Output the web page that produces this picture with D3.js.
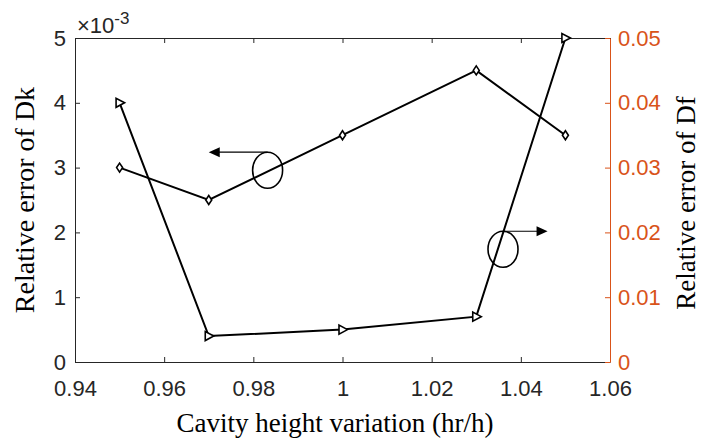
<!DOCTYPE html>
<html>
<head>
<meta charset="utf-8">
<script src="https://cdn.jsdelivr.net/npm/d3@7"></script>
<style>
  body { margin: 0; background: #fff; }
  svg { display: block; }
</style>
</head>
<body>
<svg id="chart" width="701" height="442"></svg>
<script>
// cavity height variation (hr/h)
const xValues = [0.95, 0.97, 1.0, 1.03, 1.05];
// relative error of Dk, in units of 1e-3
const dkValues = [3, 2.5, 3.5, 4.5, 3.5];
// relative error of Df
const dfValues = [0.04, 0.004, 0.005, 0.007, 0.05];

const xTicks = [0.94, 0.96, 0.98, 1, 1.02, 1.04, 1.06];
const leftTicks = [0, 1, 2, 3, 4, 5];
const rightTicks = [0, 0.01, 0.02, 0.03, 0.04, 0.05];

const margin = { top: 38, right: 91, bottom: 80, left: 75 };
const width = 701 - margin.left - margin.right;
const height = 442 - margin.top - margin.bottom;

const axisColor = "#262626";
const orange = "#D95319";

const svg = d3.select("#chart");
const g = svg.append("g").attr("transform", `translate(${margin.left},${margin.top})`);

const xScale = d3.scaleLinear().domain([0.94, 1.06]).range([0, width]);
const yLeft = d3.scaleLinear().domain([0, 5]).range([height, 0]);
const yRight = d3.scaleLinear().domain([0, 0.05]).range([height, 0]);

const tickFont = "Liberation Sans, Arial, sans-serif";
const labelFont = "Liberation Serif, Times New Roman, serif";

function styleAxis(sel, color) {
  sel.attr("font-size", null).attr("font-family", null);
  sel.select(".domain").attr("stroke", color).attr("stroke-width", 1);
  sel.selectAll(".tick line").attr("stroke", color);
  sel.selectAll(".tick text")
    .attr("fill", color)
    .style("font-family", tickFont)
    .style("font-size", "22px");
}

// bottom axis
g.append("g")
  .attr("transform", `translate(0,${height})`)
  .call(d3.axisBottom(xScale).tickValues(xTicks).tickSize(-5).tickPadding(18)
    .tickFormat(d3.format("")).tickSizeOuter(0))
  .call((s) => styleAxis(s, axisColor));

// top axis (box)
g.append("g")
  .call(d3.axisTop(xScale).tickValues(xTicks).tickSize(-5).tickFormat("").tickSizeOuter(0))
  .call((s) => styleAxis(s, axisColor));

// left axis
g.append("g")
  .call(d3.axisLeft(yLeft).tickValues(leftTicks).tickSize(-5).tickPadding(9)
    .tickFormat(d3.format("")).tickSizeOuter(0))
  .call((s) => styleAxis(s, axisColor));

// right axis
g.append("g")
  .attr("transform", `translate(${width},0)`)
  .call(d3.axisRight(yRight).tickValues(rightTicks).tickSize(-5).tickPadding(8)
    .tickFormat(d3.format("")).tickSizeOuter(0))
  .call((s) => styleAxis(s, orange));

// exponent label
const expo = g.append("text")
  .attr("x", 2)
  .attr("y", -5)
  .attr("fill", axisColor)
  .style("font-family", tickFont)
  .style("font-size", "22px");
expo.append("tspan").text("\u00d710");
expo.append("tspan").attr("dy", -9).style("font-size", "17px").text("-3");

// series
const dkData = xValues.map((x, i) => ({ x: x, y: dkValues[i] }));
const dfData = xValues.map((x, i) => ({ x: x, y: dfValues[i] }));

const dkLine = d3.line().x((d) => xScale(d.x)).y((d) => yLeft(d.y));
const dfLine = d3.line().x((d) => xScale(d.x)).y((d) => yRight(d.y));

g.append("path")
  .datum(dkData)
  .attr("fill", "none")
  .attr("stroke", "#000")
  .attr("stroke-width", 2)
  .attr("d", dkLine);

g.append("path")
  .datum(dfData)
  .attr("fill", "none")
  .attr("stroke", "#000")
  .attr("stroke-width", 2)
  .attr("d", dfLine);

// diamond markers
g.selectAll(".dk-marker")
  .data(dkData)
  .enter()
  .append("path")
  .attr("class", "dk-marker")
  .attr("transform", (d) => `translate(${xScale(d.x)},${yLeft(d.y)})`)
  .attr("d", "M0,-4.5L3,0L0,4.5L-3,0Z")
  .attr("fill", "#fff")
  .attr("stroke", "#000")
  .attr("stroke-width", 1.6);

// right-pointing triangle markers
g.selectAll(".df-marker")
  .data(dfData)
  .enter()
  .append("path")
  .attr("class", "df-marker")
  .attr("transform", (d) => `translate(${xScale(d.x)},${yRight(d.y)})`)
  .attr("d", "M5,0L-3.5,-4.5L-3.5,4.5Z")
  .attr("fill", "#fff")
  .attr("stroke", "#000")
  .attr("stroke-width", 1.6);

// annotations: ellipse + arrow pointing to the axis
const notes = [
  { cx: 0.9832, cy: yLeft(2.96), tip: 0.9700 },
  { cx: 1.0360, cy: yRight(0.0174), tip: 1.0460 }
];

notes.forEach((n) => {
  const cx = xScale(n.cx);
  const top = n.cy - 18;
  g.append("ellipse")
    .attr("cx", cx)
    .attr("cy", n.cy)
    .attr("rx", 15)
    .attr("ry", 18)
    .attr("fill", "none")
    .attr("stroke", "#000")
    .attr("stroke-width", 1.6);
  const tipX = xScale(n.tip);
  const dir = tipX < cx ? -1 : 1;
  g.append("line")
    .attr("x1", cx)
    .attr("y1", top)
    .attr("x2", tipX - dir * 9)
    .attr("y2", top)
    .attr("stroke", "#000")
    .attr("stroke-width", 1.2);
  g.append("path")
    .attr("d", `M${tipX},${top}L${tipX - dir * 11},${top - 5}L${tipX - dir * 11},${top + 5}Z`)
    .attr("fill", "#000");
});

// axis titles
svg.append("text")
  .attr("x", 335)
  .attr("y", 432)
  .attr("text-anchor", "middle")
  .attr("fill", "#000")
  .style("font-family", labelFont)
  .style("font-size", "27px")
  .text("Cavity height variation (hr/h)");

svg.append("text")
  .attr("transform", "translate(34,200) rotate(-90)")
  .attr("text-anchor", "middle")
  .attr("fill", "#000")
  .style("font-family", labelFont)
  .style("font-size", "28px")
  .text("Relative error of Dk");

svg.append("text")
  .attr("transform", "translate(695,203) rotate(-90)")
  .attr("text-anchor", "middle")
  .attr("fill", "#000")
  .style("font-family", labelFont)
  .style("font-size", "27px")
  .text("Relative error of Df");
</script>
</body>
</html>
